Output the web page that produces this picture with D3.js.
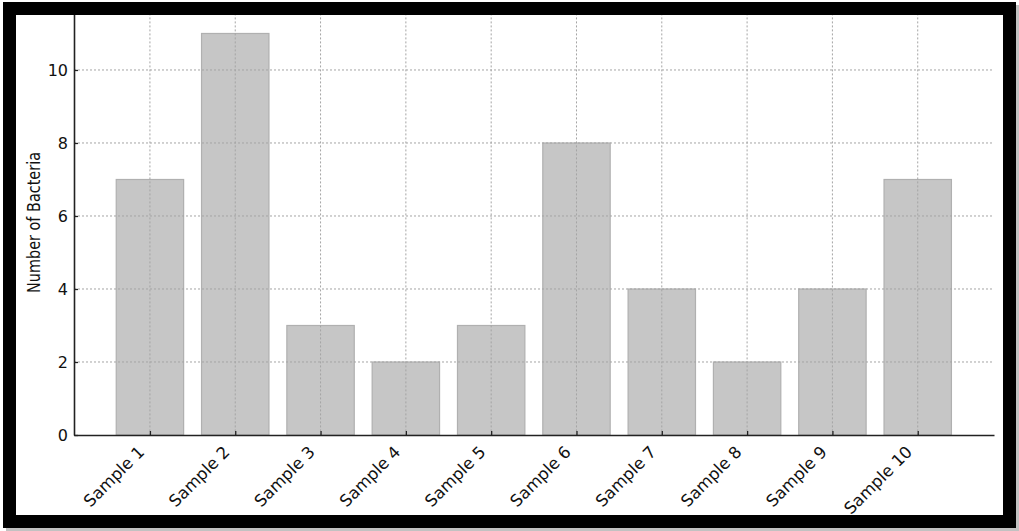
<!DOCTYPE html>
<html><head><meta charset="utf-8">
<script src="https://cdn.jsdelivr.net/npm/d3@7"></script>
<style>body{margin:0;background:#fff;}svg{display:block;font-family:"DejaVu Sans",sans-serif;}</style>
</head><body>
<svg id="c" width="1019" height="531"></svg>
<script>
const categories = ["Sample 1","Sample 2","Sample 3","Sample 4","Sample 5","Sample 6","Sample 7","Sample 8","Sample 9","Sample 10"];
const values = [7, 11, 3, 2, 3, 8, 4, 2, 4, 7];
const yTicks = [0, 2, 4, 6, 8, 10];
const yLabel = "Number of Bacteria";
const FONT = "DejaVu Sans";

const svg = d3.select("#c");
// shadow + frame
svg.append("rect").attr("x",6).attr("y",5).attr("width",1013).attr("height",526).attr("fill","#9a9a9a").attr("opacity",0.6);
svg.append("rect").attr("x",3).attr("y",2).attr("width",1013).attr("height",526).attr("fill","#000");
svg.append("rect").attr("x",16).attr("y",15).attr("width",987).attr("height",500).attr("fill","#fff");

svg.append("clipPath").attr("id","inner").append("rect").attr("x",16).attr("y",15).attr("width",987).attr("height",500);
const g = svg.append("g").attr("clip-path","url(#inner)");

const left = 74, right = 994, bottom = 435;
const n = categories.length;
const x = d3.scaleLinear().domain([-0.89, n - 1 + 0.894]).range([left, right]);
const y = d3.scaleLinear().domain([0, 11.55]).range([bottom, 13.4]);
const bw = x(0.79) - x(0);

// bars
g.selectAll("rect.bar").data(values).enter().append("rect")
  .attr("class","bar")
  .attr("x",(d,i)=>x(i)-bw/2).attr("width",bw)
  .attr("y",d=>y(d)).attr("height",d=>y(0)-y(d))
  .attr("fill","#c6c6c6").attr("stroke","#b0b0b0").attr("stroke-width",1.2);

// grid
g.selectAll("line.vg").data(categories).enter().append("line")
  .attr("x1",(d,i)=>x(i)).attr("x2",(d,i)=>x(i)).attr("y1",y.range()[1]).attr("y2",bottom)
  .attr("stroke","#a4a4a4").attr("stroke-width",1).attr("stroke-dasharray","2,2");
g.selectAll("line.hg").data(yTicks.filter(t=>t>0)).enter().append("line")
  .attr("x1",left).attr("x2",right).attr("y1",d=>y(d)).attr("y2",d=>y(d))
  .attr("stroke","#a4a4a4").attr("stroke-width",1).attr("stroke-dasharray","2,2");

// y axis
const yAxis = d3.axisLeft(y).tickValues(yTicks).tickSizeInner(-4).tickSizeOuter(0).tickPadding(6);
const ya = g.append("g").attr("transform",`translate(${left},0)`).call(yAxis)
  .attr("font-family",FONT);
ya.select(".domain").attr("stroke","#222").attr("stroke-width",1.6);
ya.selectAll(".tick line").attr("stroke","#222").attr("stroke-width",1.3);
ya.selectAll(".tick text").attr("font-family",FONT).attr("font-size",16).attr("fill","#111").attr("dy","0.36em");

// x axis
const xAxis = d3.axisBottom(x).tickValues(d3.range(n)).tickFormat(i=>categories[i]).tickSizeInner(-4).tickSizeOuter(0);
const xa = g.append("g").attr("transform",`translate(0,${bottom})`).call(xAxis)
  .attr("font-family",FONT);
xa.select(".domain").attr("stroke","#222").attr("stroke-width",1.6);
xa.selectAll(".tick line").attr("stroke","#222").attr("stroke-width",1.3);
xa.selectAll(".tick text").attr("font-family",FONT).attr("font-size",16.5).attr("fill","#111")
  .attr("text-anchor","end").attr("dy",0).attr("y",0).attr("x",0)
  .attr("transform","translate(-5,18) rotate(-45)");

// y label
g.append("text").attr("transform",`translate(40,${222.5}) rotate(-90)`)
  .attr("text-anchor","middle").attr("font-family",FONT).attr("font-size",17)
  .attr("textLength",141).attr("lengthAdjust","spacingAndGlyphs")
  .attr("fill","#111").text(yLabel);
</script>
</body></html>
